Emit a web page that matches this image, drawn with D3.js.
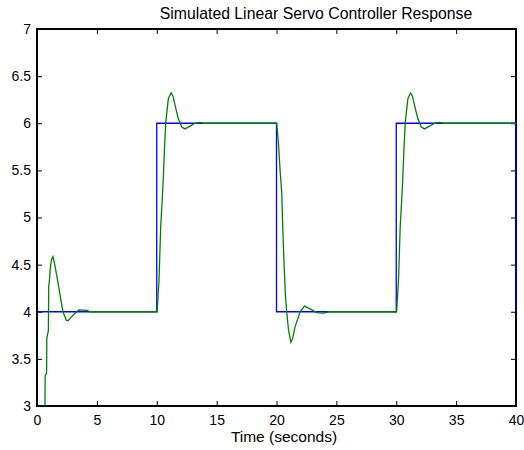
<!doctype HTML>
<meta charset="utf-8">
<style>
    body { margin: 0; background: #fff; }
    text { font-family: "Liberation Sans", Arial, sans-serif; fill: #000; }
</style>
<html>
<head>
    <script src="https://d3js.org/d3.v7.min.js"></script>
</head>
<body>
<div id="servo_viz"></div>
<script>

    // reference (setpoint) square wave
    var refTime = [0, 10, 10, 20, 20, 30, 30, 40, 40];
    var refValue = [4, 4, 6, 6, 4, 4, 6, 6, 4];

    // simulated servo response
    var respTime = [0, 0.3, 0.5, 0.6, 0.66, 0.68, 0.8, 0.82, 0.95, 0.98, 1.05, 1.1, 1.2, 1.33, 1.45, 1.67, 1.95, 2.17, 2.45, 2.6, 2.8, 3.2, 3.5, 4.2, 4.4,
        10.03, 10.19, 10.33, 10.47, 10.55, 10.64, 10.75, 10.83, 10.97, 11.2, 11.35, 11.53, 11.8, 12.09, 12.36, 12.78, 13.2, 13.6, 14.0,
        20.02, 20.16, 20.3, 20.44, 20.52, 20.64, 20.75, 20.86, 21.0, 21.2, 21.35, 21.55, 21.97, 22.33, 22.8, 23.37, 23.92, 24.34,
        30.03, 30.19, 30.33, 30.47, 30.55, 30.64, 30.75, 30.83, 30.97, 31.2, 31.35, 31.53, 31.8, 32.09, 32.36, 32.78, 33.2, 33.6, 34.0, 40.0];
    var respValue = [0, 1.0, 2.0, 2.6, 2.9, 3.32, 3.35, 3.72, 3.8, 4.27, 4.35, 4.45, 4.55, 4.585, 4.52, 4.37, 4.16, 4.0, 3.91, 3.905, 3.935, 3.99, 4.02, 4.015, 4.0,
        4.0, 4.34, 4.9, 5.22, 5.43, 5.71, 6.0, 6.1, 6.26, 6.325, 6.29, 6.19, 6.05, 5.96, 5.94, 5.97, 6.0, 6.01, 6.0,
        6.0, 5.79, 5.5, 5.26, 4.9, 4.48, 4.16, 3.99, 3.81, 3.675, 3.72, 3.84, 4.0, 4.06, 4.03, 3.99, 3.985, 4.0,
        4.0, 4.34, 4.9, 5.22, 5.43, 5.71, 6.0, 6.1, 6.26, 6.32, 6.29, 6.19, 6.05, 5.96, 5.94, 5.97, 6.0, 6.01, 6.0, 6.0];

    var xTicks = [0, 5, 10, 15, 20, 25, 30, 35, 40];
    var yTicks = [3, 3.5, 4, 4.5, 5, 5.5, 6, 6.5, 7];

    var chartTitle = "Simulated Linear Servo Controller Response";
    var xLabel = "Time (seconds)";

    // plot box in pixels
    var W = 524, H = 450;
    var boxLeft = 37, boxRight = 516, boxTop = 29, boxBottom = 406;

    var svg = d3.select("#servo_viz")
        .append("svg")
        .attr("width", W)
        .attr("height", H);

    var x = d3.scaleLinear().domain([0, 40]).range([boxLeft, boxRight]);
    var y = d3.scaleLinear().domain([3, 7]).range([boxBottom, boxTop]);

    // clip for the plotted lines
    svg.append("clipPath").attr("id", "plotClip")
        .append("rect")
        .attr("x", boxLeft - 1).attr("y", boxTop - 1)
        .attr("width", boxRight - boxLeft + 2).attr("height", boxBottom - boxTop + 1);

    // axes (ticks pointing inward, box all round)
    svg.append("g")
        .attr("transform", "translate(0," + boxBottom + ")")
        .call(d3.axisBottom(x).tickValues(xTicks).tickSize(-5).tickPadding(9).tickFormat(d3.format("d")))
        .call(g => g.select(".domain").remove())
        .call(g => g.selectAll("text").attr("font-size", 14).attr("font-family", "Liberation Sans"));

    svg.append("g")
        .attr("transform", "translate(" + boxLeft + ",0)")
        .call(d3.axisLeft(y).tickValues(yTicks).tickSize(-5).tickPadding(6).tickFormat(d3.format("")))
        .call(g => g.select(".domain").remove())
        .call(g => g.selectAll("text").attr("font-size", 14).attr("font-family", "Liberation Sans"));

    svg.append("g")
        .attr("transform", "translate(0," + boxTop + ")")
        .call(d3.axisTop(x).tickValues(xTicks).tickSize(-5).tickFormat(""))
        .call(g => g.select(".domain").remove());

    svg.append("g")
        .attr("transform", "translate(" + boxRight + ",0)")
        .call(d3.axisRight(y).tickValues(yTicks).tickSize(-5).tickFormat(""))
        .call(g => g.select(".domain").remove());

    svg.append("rect")
        .attr("x", boxLeft).attr("y", boxTop)
        .attr("width", boxRight - boxLeft).attr("height", boxBottom - boxTop)
        .attr("fill", "none")
        .attr("stroke", "#000")
        .attr("stroke-width", 2);

    var plot = svg.append("g").attr("clip-path", "url(#plotClip)");

    var refLine = d3.line()
        .x(function(d, i) { return x(refTime[i]); })
        .y(function(d) { return y(d); });

    var respLine = d3.line()
        .x(function(d, i) { return x(respTime[i]); })
        .y(function(d) { return y(d); });

    plot.append("path")
        .datum(refValue)
        .attr("d", refLine)
        .attr("fill", "none")
        .attr("stroke", "#0000ff")
        .attr("stroke-width", 1.3);

    plot.append("path")
        .datum(respValue)
        .attr("d", respLine)
        .attr("fill", "none")
        .attr("stroke", "#008000")
        .attr("stroke-width", 1.3);

    // title and label
    svg.append("text")
        .attr("x", 316).attr("y", 19)
        .attr("text-anchor", "middle")
        .attr("font-size", 15.8)
        .text(chartTitle);

    svg.append("text")
        .attr("x", 284).attr("y", 442)
        .attr("text-anchor", "middle")
        .attr("font-size", 15.5)
        .text(xLabel);

</script>
</body>
</html>
